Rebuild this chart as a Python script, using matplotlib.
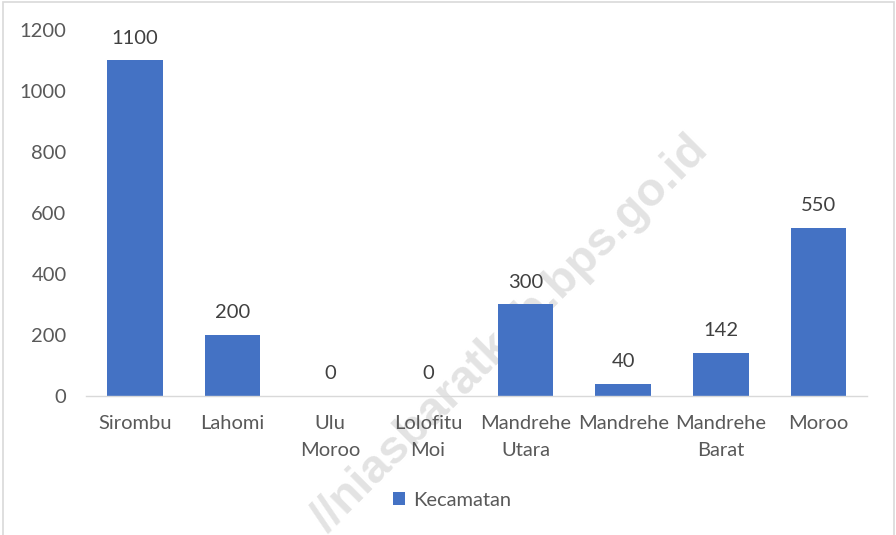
import matplotlib.pyplot as plt
from matplotlib.patches import Rectangle

# Data
kecamatan = ["Sirombu", "Lahomi", "Ulu\nMoroo", "Lolofitu\nMoi", "Mandrehe\nUtara",
             "Mandrehe", "Mandrehe\nBarat", "Moroo"]
nilai = [1100, 200, 0, 0, 300, 40, 142, 550]
yticks = [0, 200, 400, 600, 800, 1000, 1200]

plt.rcParams['font.family'] = ['Lato', 'DejaVu Sans']
warna_teks = '#595959'

fig = plt.figure(figsize=(8.96, 5.35), dpi=100)
ax = fig.add_axes([0.096, 0.26, 0.872, 0.684])

x = range(len(kecamatan))
bars = ax.bar(x, nilai, width=0.57, color='#4472C4', label='Kecamatan', zorder=2)

for xi, v in zip(x, nilai):
    ax.text(xi, v + 45, str(v), ha='center', va='bottom', fontsize=14.5, color='#404040')

ax.set_xlim(-0.5, len(kecamatan) - 0.5)
ax.set_ylim(0, 1200)
ax.set_yticks(yticks)
ax.set_xticks(list(x))
ax.set_xticklabels(kecamatan, fontsize=14.5, color=warna_teks, linespacing=1.7)
ax.tick_params(axis='y', labelsize=14.5, colors=warna_teks, length=0, pad=14)
ax.tick_params(axis='x', length=0, pad=14)

for s in ['top', 'right', 'left']:
    ax.spines[s].set_visible(False)
ax.spines['bottom'].set_color('#d9d9d9')
ax.spines['bottom'].set_linewidth(1)

leg = fig.legend(handles=[bars], labels=['Kecamatan'], loc='center',
                 bbox_to_anchor=(0.505, 0.065), frameon=False, fontsize=14.5,
                 handlelength=0.6, handleheight=0.6, handletextpad=0.4)
for t in leg.get_texts():
    t.set_color(warna_teks)

# Watermark (di belakang batang dan teks)
ax.text(0.57, 0.375, "//niasbaratkab.bps.go.id", rotation=45, fontsize=34,
        fontweight='bold', family='Liberation Sans', color='#e3e3e3',
        ha='center', va='center', zorder=0.5, transform=fig.transFigure,
        clip_on=False)

# Bingkai
fig.patches.append(Rectangle((0.0035, -0.01), 0.994, 1.006, transform=fig.transFigure,
                             fill=False, edgecolor='#d9d9d9', linewidth=1.2))

fig.savefig("out.png", dpi=100)
